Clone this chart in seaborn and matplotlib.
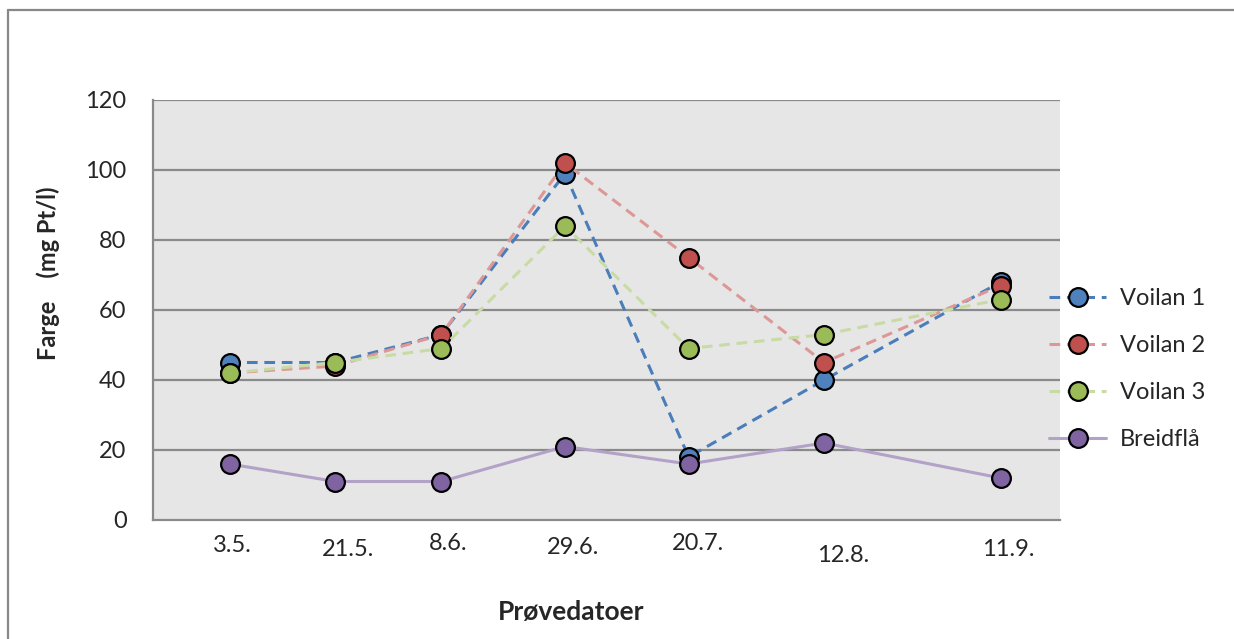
#!/usr/bin/env python3
import matplotlib.pyplot as plt
import pandas as pd
import seaborn as sns
from matplotlib.lines import Line2D

# days after 3 May for each sampling
days = [0, 18, 36, 57, 78, 101, 131]
date_labels = ["3.5.", "21.5.", "8.6.", "29.6.", "20.7.", "12.8.", "11.9."]
voilan1 = [45, 45, 53, 99, 18, 40, 68]
voilan2 = [42, 44, 53, 102, 75, 45, 67]
voilan3 = [42, 45, 49, 84, 49, 53, 63]
breidfla = [16, 11, 11, 21, 16, 22, 12]
series_names = ["Voilan 1", "Voilan 2", "Voilan 3", "Breidflå"]

# label offsets (pixels) as placed in the original chart
lab_dx = [3, 13, 7, 8, 9, 19, 8]
lab_dy = [-25, -29, -23, -28, -23, -36, -29]

sns.set_style("white")
plt.rcParams["font.family"] = ["Lato", "DejaVu Sans"]

W, H = 1234, 639
fig = plt.figure(figsize=(W / 100, H / 100), dpi=100)
ax = fig.add_axes([153 / W, 1 - 520 / H, (1060 - 153) / W, (520 - 100) / H])
ax.set_facecolor("#e6e6e6")

df = pd.DataFrame({"dag": days * 4,
                   "verdi": voilan1 + voilan2 + voilan3 + breidfla,
                   "serie": [s for s in series_names for _ in days]})

styles = {
    "Voilan 1": ("#4a7ebb", "#4f81bd", (0, (3.5, 2.2))),
    "Voilan 2": ("#dc9896", "#c0504d", (0, (3.5, 2.2))),
    "Voilan 3": ("#c8dba5", "#9bbb59", (0, (3.5, 2.2))),
    "Breidflå": ("#b3a2c7", "#8064a2", "-"),
}

for y in range(20, 121, 20):
    ax.axhline(y, color="#8a8a8a", lw=1.6, zorder=1)

handles = []
for s in series_names:
    lc, mc, ls = styles[s]
    sns.lineplot(data=df[df["serie"] == s], x="dag", y="verdi", ax=ax,
                 color=lc, linestyle=ls, lw=2.2, marker="o", markersize=13.5,
                 markerfacecolor=mc, markeredgecolor="black", markeredgewidth=1.6,
                 zorder=3, legend=False)
    handles.append(Line2D([], [], color=lc, linestyle=ls, lw=2.2, marker="o",
                          markersize=13.5, markerfacecolor=mc,
                          markeredgecolor="black", markeredgewidth=1.6))

ax.set_xlim(-13, -13 + 907 / 5.886)
ax.set_ylim(0, 120)
ax.set_yticks(range(0, 121, 20))
ax.tick_params(axis="y", length=0, pad=19, labelsize=17)
ax.set_xticks([-13 + 4 * k for k in range(39)])
ax.set_xticklabels([])
ax.tick_params(axis="x", direction="in", length=7, width=1.2, color="#8a8a8a")
for sp in ["top", "right"]:
    ax.spines[sp].set_visible(False)
for sp in ["left", "bottom"]:
    ax.spines[sp].set_color("#8a8a8a")
    ax.spines[sp].set_linewidth(1.6)
ax.set_xlabel("")
ax.set_ylabel("")

for d, lab, dx, dy in zip(days, date_labels, lab_dx, lab_dy):
    ax.annotate(lab, xy=(d, 0), xycoords=("data", "axes fraction"),
                xytext=(dx, dy), textcoords="offset pixels",
                ha="center", va="center", fontsize=17)

fig.text(48 / W, 1 - 273 / H, "Farge    (mg Pt/l)", rotation=90,
         ha="center", va="center", fontsize=17, fontweight="bold")
fig.text(571 / W, 1 - 612 / H, "Prøvedatoer", ha="center", va="center",
         fontsize=19, fontweight="bold")

ax.legend(handles, series_names, loc="center left",
          bbox_to_anchor=(1028 / W, 1 - 369 / H), bbox_transform=fig.transFigure,
          frameon=False, fontsize=17, handlelength=2.4, handletextpad=0.6,
          labelspacing=1.1)

# outer chart border
fig.add_artist(Line2D([8 / W, 8 / W], [0, 1 - 10 / H], color="#888888", lw=1.6,
                      transform=fig.transFigure))
fig.add_artist(Line2D([8 / W, 1], [1 - 10 / H, 1 - 10 / H], color="#888888", lw=1.6,
                      transform=fig.transFigure))

fig.savefig("out.png", dpi=100)
